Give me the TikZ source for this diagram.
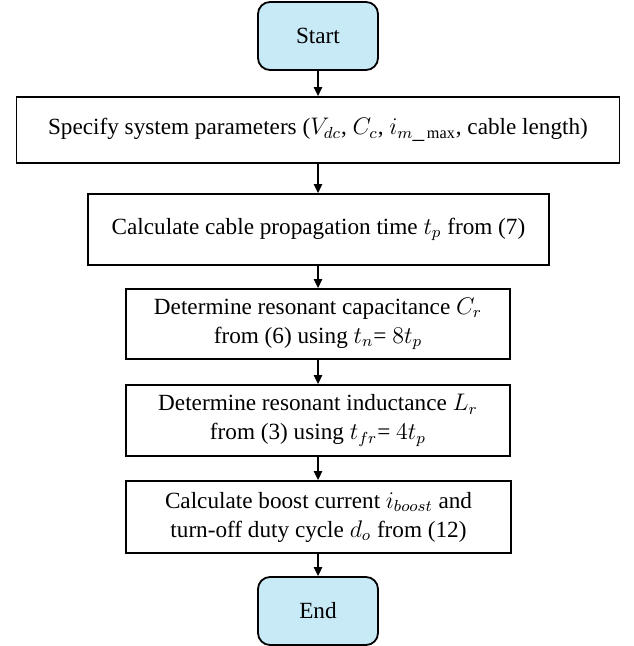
\documentclass[tikz,border=0pt]{standalone}
\usepackage{fontspec}
\setmainfont{Liberation Serif}
\usetikzlibrary{arrows.meta}
\definecolor{termfill}{RGB}{200,233,246}
\begin{document}
\begin{tikzpicture}[x=0.5pt,y=-0.5pt,
  base/.style={draw=black,line width=0.9pt,align=center,inner sep=0pt,
    font=\fontsize{11.6}{14.5}\selectfont},
  term/.style={base,rounded corners=6pt,fill=termfill,minimum width=60pt,minimum height=34pt},
  procbox/.style={base,rectangle},
  flow/.style={line width=0.8pt,-{Triangle[length=4.5pt,width=4.2pt]}}]
\useasboundingbox (0,0) rectangle (633,646);
\node[term] (start) at (318,36) {Start};
\node[procbox,minimum width=301.5pt,minimum height=33pt] (b1) at (318,130)
  {Specify system parameters ($V_{dc}$, $C_c$, $i_{m\_\max}$, cable length)};
\node[procbox,minimum width=230.5pt,minimum height=35.5pt] (b2) at (318.5,229.5)
  {Calculate cable propagation time $t_p$ from (7)};
\node[procbox,minimum width=192pt,minimum height=35pt] (b3) at (318,324)
  {Determine resonant capacitance $C_r$\\from (6) using $t_n$= $8t_p$};
\node[procbox,minimum width=192pt,minimum height=35.5pt] (b4) at (318,420.5)
  {Determine resonant inductance $L_r$\\from (3) using $t_{fr}$= $4t_p$};
\node[procbox,minimum width=192.5pt,minimum height=36pt] (b5) at (318.5,517)
  {Calculate boost current $i_{boost}$ and\\turn-off duty cycle $d_o$ from (12)};
\node[term] (end) at (318,611) {End};
\draw[flow] (start) -- (b1);
\draw[flow] (b1) -- (b1.south |- b2.north);
\draw[flow] (b2.south -| b3.north) -- (b3);
\draw[flow] (b3) -- (b4);
\draw[flow] (b4) -- (b4.south |- b5.north);
\draw[flow] (b5.south -| end.north) -- (end);
\end{tikzpicture}
\end{document}
